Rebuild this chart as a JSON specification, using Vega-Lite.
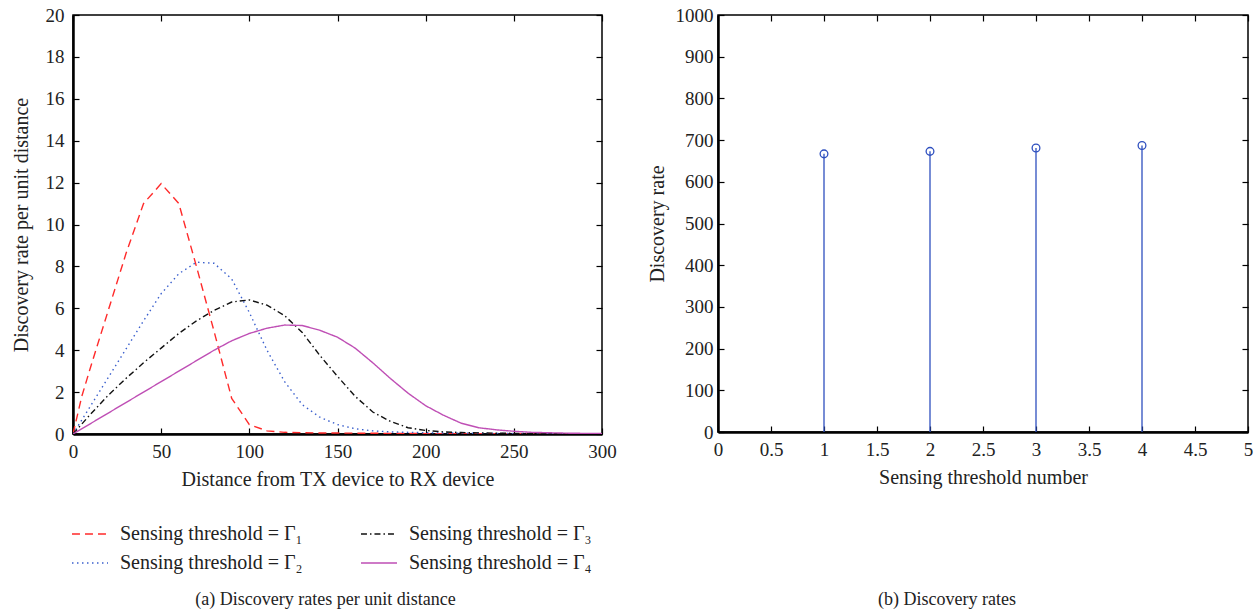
{
  "$schema": "https://vega.github.io/schema/vega-lite/v6.json",
  "autosize": "pad",
  "padding": {"left": 10, "top": 5, "right": 10, "bottom": 2},
  "background": "white",
  "config": {
    "font": "Liberation Serif",
    "view": {"stroke": "black", "strokeWidth": 1.5},
    "axis": {
      "labelFont": "Liberation Serif", "titleFont": "Liberation Serif",
      "labelFontSize": 19, "titleFontSize": 20, "titleFontWeight": "normal",
      "labelColor": "#222", "titleColor": "#222",
      "tickColor": "black", "tickSize": -6, "tickWidth": 1.2,
      "grid": false, "domain": true, "domainColor": "black", "domainWidth": 2.5,
      "labelPadding": 14, "labelFlush": false, "labelOverlap": false, "format": "~r"
    },
    "legend": {
      "labelFont": "Liberation Serif", "labelFontSize": 20, "labelColor": "#222",
      "symbolType": "stroke", "symbolSize": 1300, "symbolStrokeWidth": 1.5,
      "labelLimit": 400
    }
  },
  "datasets": {
    "rates": [
      {"d": 0, "v": 0, "s": "Γ₁"}, {"d": 5, "v": 1.8, "s": "Γ₁"}, {"d": 10, "v": 3.2, "s": "Γ₁"}, {"d": 20, "v": 5.9, "s": "Γ₁"},
      {"d": 30, "v": 8.6, "s": "Γ₁"}, {"d": 40, "v": 11.0, "s": "Γ₁"}, {"d": 50, "v": 11.95, "s": "Γ₁"}, {"d": 60, "v": 11.0, "s": "Γ₁"},
      {"d": 70, "v": 8.0, "s": "Γ₁"}, {"d": 80, "v": 4.9, "s": "Γ₁"}, {"d": 90, "v": 1.7, "s": "Γ₁"}, {"d": 100, "v": 0.45, "s": "Γ₁"},
      {"d": 110, "v": 0.15, "s": "Γ₁"}, {"d": 120, "v": 0.08, "s": "Γ₁"}, {"d": 140, "v": 0.05, "s": "Γ₁"}, {"d": 160, "v": 0.04, "s": "Γ₁"},
      {"d": 200, "v": 0.02, "s": "Γ₁"}, {"d": 250, "v": 0.01, "s": "Γ₁"}, {"d": 300, "v": 0.0, "s": "Γ₁"},

      {"d": 0, "v": 0, "s": "Γ₂"}, {"d": 10, "v": 1.35, "s": "Γ₂"}, {"d": 20, "v": 2.7, "s": "Γ₂"}, {"d": 30, "v": 4.05, "s": "Γ₂"},
      {"d": 40, "v": 5.4, "s": "Γ₂"}, {"d": 50, "v": 6.7, "s": "Γ₂"}, {"d": 60, "v": 7.65, "s": "Γ₂"}, {"d": 70, "v": 8.2, "s": "Γ₂"},
      {"d": 80, "v": 8.15, "s": "Γ₂"}, {"d": 90, "v": 7.4, "s": "Γ₂"}, {"d": 100, "v": 5.8, "s": "Γ₂"}, {"d": 110, "v": 4.0, "s": "Γ₂"},
      {"d": 120, "v": 2.5, "s": "Γ₂"}, {"d": 130, "v": 1.4, "s": "Γ₂"}, {"d": 140, "v": 0.8, "s": "Γ₂"}, {"d": 150, "v": 0.45, "s": "Γ₂"},
      {"d": 160, "v": 0.25, "s": "Γ₂"}, {"d": 170, "v": 0.15, "s": "Γ₂"}, {"d": 180, "v": 0.1, "s": "Γ₂"}, {"d": 200, "v": 0.06, "s": "Γ₂"},
      {"d": 220, "v": 0.04, "s": "Γ₂"}, {"d": 250, "v": 0.02, "s": "Γ₂"}, {"d": 300, "v": 0.01, "s": "Γ₂"},

      {"d": 0, "v": 0, "s": "Γ₃"}, {"d": 10, "v": 0.95, "s": "Γ₃"}, {"d": 20, "v": 1.85, "s": "Γ₃"}, {"d": 30, "v": 2.65, "s": "Γ₃"},
      {"d": 40, "v": 3.4, "s": "Γ₃"}, {"d": 50, "v": 4.1, "s": "Γ₃"}, {"d": 60, "v": 4.8, "s": "Γ₃"}, {"d": 70, "v": 5.4, "s": "Γ₃"},
      {"d": 80, "v": 5.9, "s": "Γ₃"}, {"d": 90, "v": 6.3, "s": "Γ₃"}, {"d": 100, "v": 6.4, "s": "Γ₃"}, {"d": 110, "v": 6.15, "s": "Γ₃"},
      {"d": 120, "v": 5.65, "s": "Γ₃"}, {"d": 130, "v": 4.85, "s": "Γ₃"}, {"d": 140, "v": 3.75, "s": "Γ₃"}, {"d": 150, "v": 2.75, "s": "Γ₃"},
      {"d": 160, "v": 1.8, "s": "Γ₃"}, {"d": 170, "v": 1.05, "s": "Γ₃"}, {"d": 180, "v": 0.6, "s": "Γ₃"}, {"d": 190, "v": 0.3, "s": "Γ₃"},
      {"d": 200, "v": 0.17, "s": "Γ₃"}, {"d": 210, "v": 0.1, "s": "Γ₃"}, {"d": 220, "v": 0.07, "s": "Γ₃"}, {"d": 240, "v": 0.04, "s": "Γ₃"},
      {"d": 260, "v": 0.02, "s": "Γ₃"}, {"d": 300, "v": 0.01, "s": "Γ₃"},

      {"d": 0, "v": 0, "s": "Γ₄"}, {"d": 10, "v": 0.5, "s": "Γ₄"}, {"d": 20, "v": 1.0, "s": "Γ₄"}, {"d": 30, "v": 1.5, "s": "Γ₄"},
      {"d": 40, "v": 2.0, "s": "Γ₄"}, {"d": 50, "v": 2.5, "s": "Γ₄"}, {"d": 60, "v": 3.0, "s": "Γ₄"}, {"d": 70, "v": 3.5, "s": "Γ₄"},
      {"d": 80, "v": 4.0, "s": "Γ₄"}, {"d": 90, "v": 4.45, "s": "Γ₄"}, {"d": 100, "v": 4.8, "s": "Γ₄"}, {"d": 110, "v": 5.05, "s": "Γ₄"},
      {"d": 120, "v": 5.2, "s": "Γ₄"}, {"d": 130, "v": 5.18, "s": "Γ₄"}, {"d": 140, "v": 4.95, "s": "Γ₄"}, {"d": 150, "v": 4.62, "s": "Γ₄"},
      {"d": 160, "v": 4.1, "s": "Γ₄"}, {"d": 170, "v": 3.4, "s": "Γ₄"}, {"d": 180, "v": 2.65, "s": "Γ₄"}, {"d": 190, "v": 1.95, "s": "Γ₄"},
      {"d": 200, "v": 1.35, "s": "Γ₄"}, {"d": 210, "v": 0.9, "s": "Γ₄"}, {"d": 220, "v": 0.52, "s": "Γ₄"}, {"d": 230, "v": 0.3, "s": "Γ₄"},
      {"d": 240, "v": 0.2, "s": "Γ₄"}, {"d": 250, "v": 0.13, "s": "Γ₄"}, {"d": 260, "v": 0.08, "s": "Γ₄"}, {"d": 280, "v": 0.04, "s": "Γ₄"},
      {"d": 300, "v": 0.02, "s": "Γ₄"}
    ],
    "totals": [
      {"n": 1, "r": 667}, {"n": 2, "r": 673}, {"n": 3, "r": 681}, {"n": 4, "r": 687}
    ]
  },
  "spacing": 116,
  "bounds": "flush",
  "hconcat": [
    {
      "width": 529,
      "height": 419,
      "data": {"name": "rates"},
      "title": {"text": "(a)  Discovery rates per unit distance", "orient": "bottom", "offset": 102, "dx": -12, "fontSize": 18, "font": "Liberation Serif", "fontWeight": "normal", "color": "#222", "anchor": "middle"},
      "layer": [
        {
          "mark": {"type": "line", "strokeWidth": 1.4, "clip": true},
          "encoding": {
            "x": {"field": "d", "type": "quantitative", "scale": {"domain": [0, 300], "nice": false},
                  "axis": {"values": [0, 50, 100, 150, 200, 250, 300], "title": "Distance from TX device to RX device", "titlePadding": 8}},
            "y": {"field": "v", "type": "quantitative", "scale": {"domain": [0, 20], "nice": false},
                  "axis": {"values": [0, 2, 4, 6, 8, 10, 12, 14, 16, 18, 20], "title": "Discovery rate per unit distance", "titlePadding": 14, "labelPadding": 15}},
            "color": {"field": "s", "type": "nominal",
                      "scale": {"domain": ["Γ₁", "Γ₂", "Γ₃", "Γ₄"], "range": ["#ff2a2a", "#3a5fcd", "#111111", "#bf4fb5"]},
                      "legend": {"orient": "none", "direction": "vertical", "legendX": -2, "legendY": 500, "columns": 2, "columnPadding": 54, "rowPadding": -7, "title": null, "labelOffset": 11, "labelExpr": "'Sensing threshold = ' + datum.label"}},
            "strokeDash": {"field": "s", "type": "nominal",
                      "scale": {"domain": ["Γ₁", "Γ₂", "Γ₃", "Γ₄"], "range": [[8, 5], [1.5, 3.5], [6, 3, 1.5, 3], [1, 0]]},
                      "legend": {"orient": "none", "direction": "vertical", "legendX": -2, "legendY": 500, "columns": 2, "columnPadding": 54, "rowPadding": -7, "title": null, "labelOffset": 11, "labelExpr": "'Sensing threshold = ' + datum.label"}}
          }
        },
        {
          "mark": {"type": "line", "opacity": 0},
          "encoding": {
            "x": {"field": "d", "type": "quantitative", "scale": {"domain": [0, 300], "nice": false},
                  "axis": {"orient": "top", "values": [0, 50, 100, 150, 200, 250, 300], "labels": false, "title": null, "domain": false}},
            "y": {"field": "v", "type": "quantitative", "scale": {"domain": [0, 20], "nice": false},
                  "axis": {"orient": "right", "values": [0, 2, 4, 6, 8, 10, 12, 14, 16, 18, 20], "labels": false, "title": null, "domain": false}}
          }
        }
      ],
      "resolve": {"axis": {"x": "independent", "y": "independent"}}
    },
    {
      "width": 530,
      "height": 417,
      "data": {"name": "totals"},
      "title": {"text": "(b)  Discovery rates", "orient": "bottom", "offset": 104, "dx": -36, "fontSize": 18, "font": "Liberation Serif", "fontWeight": "normal", "color": "#222", "anchor": "middle"},
      "layer": [
        {
          "mark": {"type": "rule", "color": "#2e4fbf", "strokeWidth": 1.3},
          "encoding": {
            "x": {"field": "n", "type": "quantitative", "scale": {"domain": [0, 5], "nice": false},
                  "axis": {"values": [0, 0.5, 1, 1.5, 2, 2.5, 3, 3.5, 4, 4.5, 5], "title": "Sensing threshold number", "titlePadding": 8}},
            "y": {"field": "r", "type": "quantitative", "scale": {"domain": [0, 1000], "nice": false},
                  "axis": {"values": [0, 100, 200, 300, 400, 500, 600, 700, 800, 900, 1000], "title": "Discovery rate", "titlePadding": 8, "labelPadding": 11}},
            "y2": {"datum": 0}
          }
        },
        {
          "mark": {"type": "point", "shape": "circle", "filled": false, "size": 60, "strokeWidth": 1.3, "color": "#2e4fbf", "opacity": 1},
          "encoding": {
            "x": {"field": "n", "type": "quantitative", "axis": null},
            "y": {"field": "r", "type": "quantitative", "axis": null}
          }
        },
        {
          "mark": {"type": "point", "opacity": 0},
          "encoding": {
            "x": {"field": "n", "type": "quantitative", "scale": {"domain": [0, 5], "nice": false},
                  "axis": {"orient": "top", "values": [0, 0.5, 1, 1.5, 2, 2.5, 3, 3.5, 4, 4.5, 5], "labels": false, "title": null, "domain": false}},
            "y": {"field": "r", "type": "quantitative", "scale": {"domain": [0, 1000], "nice": false},
                  "axis": {"orient": "right", "values": [0, 100, 200, 300, 400, 500, 600, 700, 800, 900, 1000], "labels": false, "title": null, "domain": false}}
          }
        }
      ],
      "resolve": {"axis": {"x": "independent", "y": "independent"}}
    }
  ]
}
